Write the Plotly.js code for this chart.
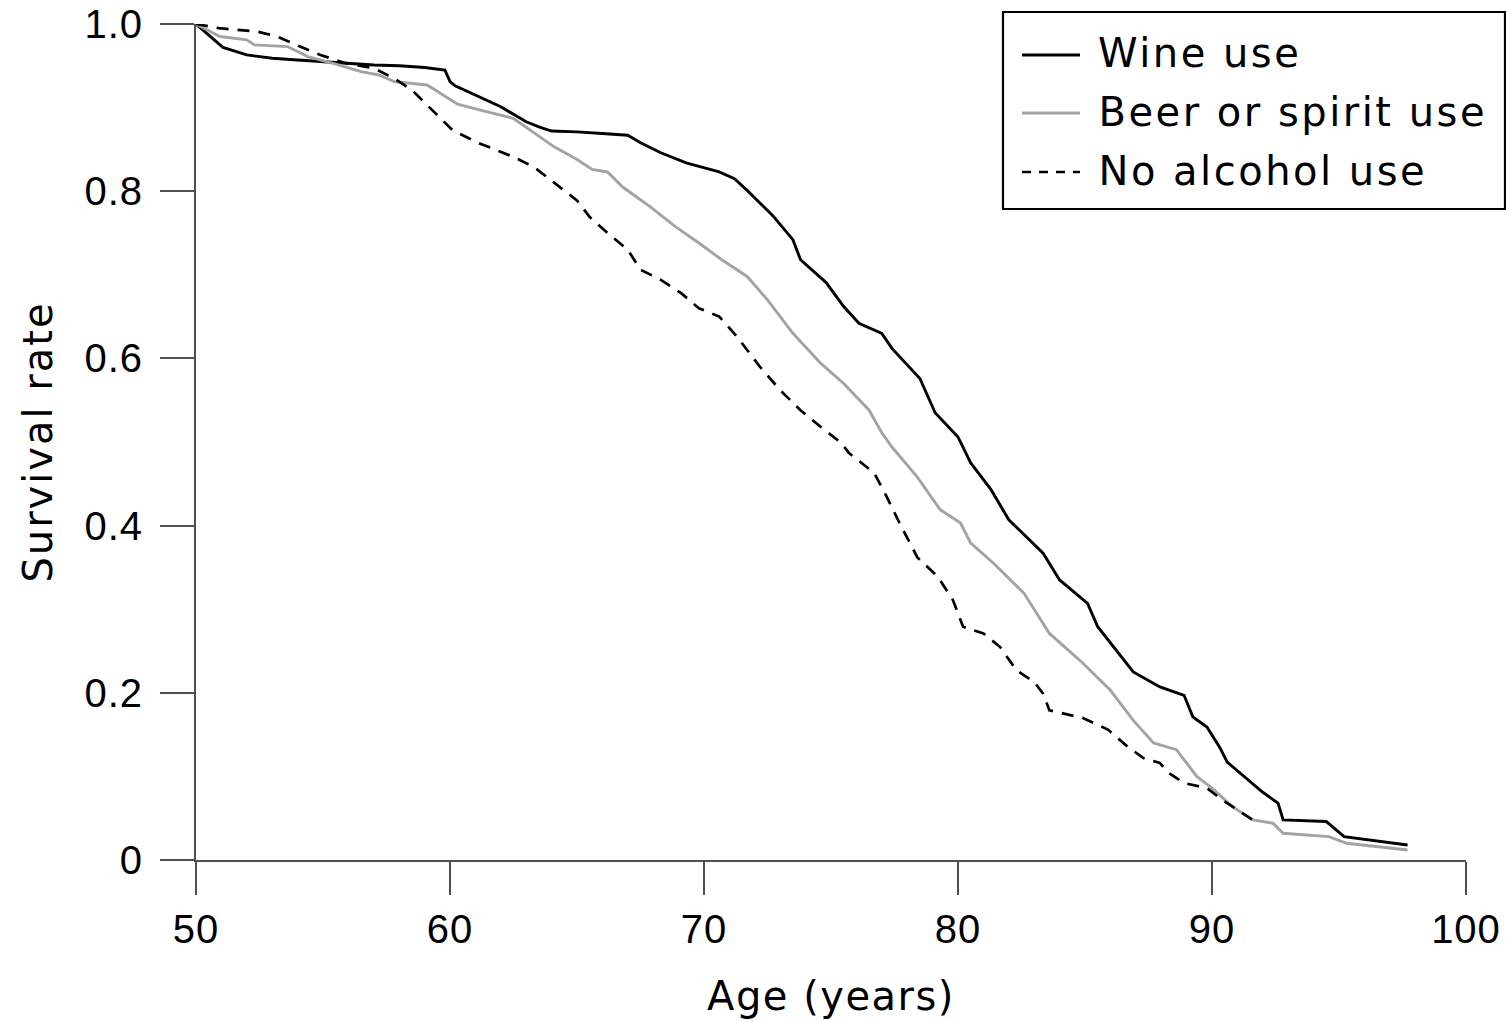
<!DOCTYPE html>
<html>
<head>
<meta charset="utf-8">
<script src="https://cdn.plot.ly/plotly-3.0.1.min.js"></script>
<style>
html,body{margin:0;padding:0;background:#fff;}
#chart .annotation-text{letter-spacing:2.5px;}
#chart .xtitle{letter-spacing:1.5px;}
#chart .ytitle{letter-spacing:2px;}
#chart .xtick text, #chart .ytick text{letter-spacing:1px;}
</style>
</head>
<body>
<div id="chart" style="width:1506px;height:1021px;"></div>
<script>
// Wine use
const wineAge = [50.0,50.67,51.06,52.0,53.0,54.0,55.0,56.0,57.0,58.0,59.0,59.8,60.0,60.2,61.0,62.0,63.0,63.5,64.0,65.0,66.0,67.0,67.5,68.3,69.3,70.6,71.2,71.7,72.7,73.5,73.8,74.8,75.5,76.1,77.0,77.4,78.5,79.1,80.0,80.5,81.3,82.0,83.35,84.0,85.1,85.5,86.9,87.95,88.9,89.25,89.8,90.3,90.6,91.4,92.0,92.6,92.8,94.5,95.2,97.7];
const wineSurv = [1.000,0.983,0.972,0.963,0.959,0.957,0.955,0.953,0.951,0.950,0.948,0.945,0.931,0.926,0.915,0.901,0.883,0.877,0.872,0.871,0.869,0.867,0.858,0.846,0.834,0.823,0.815,0.801,0.771,0.742,0.718,0.691,0.662,0.642,0.630,0.612,0.576,0.535,0.506,0.475,0.443,0.407,0.367,0.335,0.307,0.279,0.225,0.207,0.197,0.171,0.159,0.135,0.117,0.096,0.081,0.068,0.048,0.046,0.028,0.018];

// Beer or spirit use
const beerAge = [50.0,50.94,52.0,52.3,53.6,54.4,55.4,56.5,57.2,57.8,59.1,60.3,61.2,62.5,63.3,64.1,65.0,65.6,66.2,66.8,67.9,68.9,69.8,70.7,71.7,72.5,73.5,74.6,75.5,76.5,77.0,77.4,78.4,79.3,80.1,80.5,81.4,82.6,83.6,84.9,86.0,86.9,87.7,88.6,89.4,90.0,90.8,91.6,92.4,92.8,94.6,95.3,97.7];
const beerSurv = [1.000,0.985,0.981,0.975,0.973,0.961,0.953,0.943,0.939,0.931,0.927,0.904,0.897,0.887,0.870,0.853,0.838,0.826,0.823,0.805,0.781,0.757,0.738,0.718,0.698,0.670,0.630,0.594,0.570,0.538,0.511,0.494,0.458,0.419,0.403,0.379,0.355,0.319,0.271,0.236,0.203,0.167,0.140,0.132,0.100,0.086,0.064,0.048,0.044,0.032,0.028,0.020,0.012];

// No alcohol use
const noneAge = [50.0,50.9,52.4,53.2,54.1,54.9,55.9,57.0,57.8,58.5,59.3,60.1,61.1,62.5,63.3,64.1,65.0,65.5,66.2,67.0,67.5,68.3,69.1,69.8,70.6,71.3,72.2,73.0,73.8,74.6,75.4,75.7,76.7,77.2,77.7,78.4,79.2,79.8,80.2,81.0,81.65,82.3,83.0,83.35,83.6,84.9,85.9,86.7,87.3,87.95,88.3,88.9,89.8,90.4,91.1,91.6];
const noneSurv = [1.000,0.995,0.991,0.985,0.973,0.963,0.953,0.947,0.935,0.921,0.897,0.873,0.858,0.841,0.829,0.810,0.789,0.769,0.750,0.730,0.706,0.694,0.678,0.660,0.650,0.626,0.590,0.562,0.538,0.518,0.499,0.487,0.463,0.434,0.403,0.362,0.339,0.311,0.279,0.271,0.255,0.227,0.213,0.199,0.179,0.170,0.156,0.135,0.122,0.116,0.104,0.092,0.086,0.072,0.058,0.048];

const xTicks = [50,60,70,80,90,100];
const yTicks = [0,0.2,0.4,0.6,0.8,1.0];
const yTickText = ["0","0.2","0.4","0.6","0.8","1.0"];
const seriesNames = ["Wine use","Beer or spirit use","No alcohol use"];

const W = 1506, H = 1021;
const M = {l:196, r:40, t:24, b:161};
const PW = W - M.l - M.r, PH = H - M.t - M.b;
const px = x => (x - M.l) / PW;
const py = y => (H - M.b - y) / PH;
const LEGEND_SPACING = 2.5;

const styles = [
  {color:'#000000', width:2.9, dash:'solid'},
  {color:'#a3a3a3', width:2.9, dash:'solid'},
  {color:'#000000', width:2.7, dash:'12px,9px'}
];

const traces = [
  {x:wineAge, y:wineSurv, name:seriesNames[0], type:'scatter', mode:'lines', line:styles[0], showlegend:false},
  {x:beerAge, y:beerSurv, name:seriesNames[1], type:'scatter', mode:'lines', line:styles[1], showlegend:false},
  {x:noneAge, y:noneSurv, name:seriesNames[2], type:'scatter', mode:'lines', line:styles[2], showlegend:false}
];

const titleFont = {family:'DejaVu Sans, Liberation Sans, sans-serif', size:40, color:'#000'};
const tickFont = {family:'Liberation Sans, Arial, sans-serif', size:40, color:'#000'};

// Legend drawn as a framed box with sample lines and labels
const shapes = [
  {type:'rect', xref:'paper', yref:'paper', x0:px(1003), x1:px(1505), y0:py(209), y1:py(12),
   line:{color:'#000', width:2.2}, fillcolor:'rgba(255,255,255,0)', layer:'above'}
];
const annotations = [];
const rowLineY = [55, 113, 172];
const rowTextY = [53, 112, 171];
for (let i = 0; i < 3; i++) {
  shapes.push({type:'line', xref:'paper', yref:'paper', x0:px(1022), x1:px(1080),
    y0:py(rowLineY[i]), y1:py(rowLineY[i]),
    line:{color:styles[i].color, width:styles[i].width, dash: i===2 ? '9px,8px' : 'solid'}});
  const shift = seriesNames[i].length * LEGEND_SPACING / 2;
  annotations.push({xref:'paper', yref:'paper', x:px(1096 + shift), y:py(rowTextY[i]),
    xanchor:'left', yanchor:'middle', showarrow:false, text:seriesNames[i],
    font:titleFont});
}

const layout = {
  width:W, height:H,
  margin:M,
  paper_bgcolor:'#fff', plot_bgcolor:'#fff',
  showlegend:false,
  xaxis:{
    range:[50,100], tickvals:xTicks, ticktext:xTicks.map(String),
    showgrid:false, zeroline:false, showline:true, linecolor:'#505050', linewidth:2,
    ticks:'outside', ticklen:33, tickwidth:2, tickcolor:'#505050',
    tickfont:tickFont, ticklabelstandoff:0,
    title:{text:'Age (years)', font:titleFont, standoff:32}
  },
  yaxis:{
    range:[0,1], tickvals:yTicks, ticktext:yTickText,
    showgrid:false, zeroline:false, showline:true, linecolor:'#505050', linewidth:2,
    ticks:'outside', ticklen:34, tickwidth:2, tickcolor:'#505050',
    tickfont:tickFont, ticklabelstandoff:9,
    title:{text:'Survival rate', font:titleFont, standoff:22}
  },
  shapes:shapes,
  annotations:annotations
};

Plotly.newPlot('chart', traces, layout, {displayModeBar:false, staticPlot:true});
</script>
</body>
</html>
